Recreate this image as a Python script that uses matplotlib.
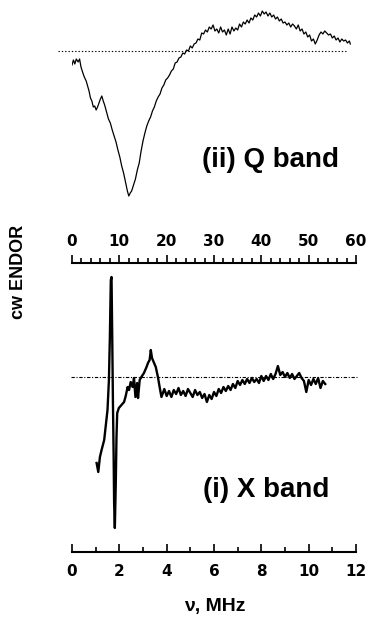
import numpy as np
import matplotlib
matplotlib.use("Agg")
import matplotlib.pyplot as plt

plt.rcParams["font.family"] = ["Liberation Sans", "DejaVu Sans"]
plt.rcParams["font.weight"] = "bold"

# --- Q band spectrum (MHz, arbitrary units, baseline = 0) ---
q_freq = [0.0, 0.3, 0.6, 0.9, 1.3, 1.6, 1.9, 2.3, 2.6, 3.0, 3.3, 3.6, 3.9, 4.2, 4.5,
          4.8, 5.1, 5.4, 5.7, 6.0, 6.3, 6.6, 6.9, 7.3, 7.7, 8.1, 8.5, 8.9, 9.3, 9.7,
          10.1, 10.5, 10.9, 11.3, 11.7, 12.0, 12.3, 12.6, 13.0, 13.4, 13.8, 14.2, 14.6,
          15.0, 15.4, 15.8, 16.2, 16.6, 17.0, 17.4, 17.8, 18.2, 18.6, 19.0, 19.4, 19.8,
          20.2, 20.6, 21.0, 21.4, 21.8, 22.2, 22.6, 23.0, 23.4, 23.8, 24.2, 24.6, 25.0,
          25.4, 25.8, 26.2, 26.6, 27.0, 27.4, 27.8, 28.2, 28.6, 29.0, 29.4, 29.8, 30.2,
          30.6, 31.0, 31.4, 31.8, 32.2, 32.6, 33.0, 33.4, 33.8, 34.2, 34.6, 35.0, 35.4,
          35.8, 36.2, 36.6, 37.0, 37.4, 37.8, 38.2, 38.6, 39.0, 39.4, 39.8, 40.2, 40.6,
          41.0, 41.4, 41.8, 42.2, 42.6, 43.0, 43.4, 43.8, 44.2, 44.6, 45.0, 45.4, 45.8,
          46.2, 46.6, 47.0, 47.4, 47.8, 48.2, 48.6, 49.0, 49.4, 49.8, 50.2, 50.6, 51.0,
          51.4, 51.8, 52.2, 52.6, 53.0, 53.4, 53.8, 54.2, 54.6, 55.0, 55.4, 55.8, 56.2,
          56.6, 57.0, 57.4, 57.8, 58.2, 58.6, 58.8]
q_signal = [-14, -9, -13, -8, -11, -8, -16, -22, -26, -30, -35, -40, -47, -50, -56,
            -55, -59, -56, -52, -48, -45, -50, -54, -61, -68, -72, -79, -85, -91, -99,
            -106, -115, -122, -131, -140, -145, -142, -140, -134, -128, -119, -112, -100,
            -90, -82, -75, -70, -66, -60, -56, -50, -46, -43, -37, -34, -29,
            -27, -24, -20, -18, -12, -11, -7, -6, -2, -3, 1, 0, 5,
            3, 7, 8, 12, 11, 18, 17, 21, 19, 24, 22, 26, 20,
            22, 18, 24, 19, 21, 16, 22, 17, 24, 20, 23, 21, 27,
            24, 29, 27, 31, 28, 33, 31, 36, 34, 38, 35, 40, 37,
            39, 35, 38, 34, 36, 32, 34, 30, 32, 28, 29, 26, 28,
            24, 27, 25, 22, 26, 20, 22, 17, 19, 14, 16, 10, 12,
            7, 11, 16, 19, 17, 20, 18, 16, 17, 13, 15, 11, 13,
            9, 12, 10, 11, 8, 10, 7]

# --- X band spectrum ---
x_freq = [1.04, 1.11, 1.18, 1.25, 1.36, 1.43, 1.50, 1.56, 1.60, 1.64, 1.67, 1.70,
          1.73, 1.76, 1.78, 1.81, 1.85, 1.88, 1.91, 1.98, 2.09, 2.20, 2.27, 2.35,
          2.41, 2.48, 2.56, 2.62, 2.68, 2.75, 2.79, 2.86, 2.93, 3.04, 3.15, 3.21,
          3.28, 3.33, 3.38, 3.45, 3.54, 3.63, 3.71, 3.78,
          3.9, 4.0, 4.1, 4.2, 4.3, 4.4, 4.5, 4.6, 4.7, 4.8, 4.9, 5.0, 5.1, 5.2,
          5.3, 5.4, 5.5, 5.6, 5.7, 5.8, 5.9, 6.0, 6.1, 6.2, 6.3, 6.4, 6.5, 6.6,
          6.7, 6.8, 6.9, 7.0, 7.1, 7.2, 7.3, 7.4, 7.5, 7.6, 7.7, 7.8, 7.9, 8.0,
          8.1, 8.2, 8.3, 8.4, 8.5, 8.6, 8.7, 8.8, 8.9, 9.0, 9.1, 9.2, 9.3, 9.4,
          9.5, 9.6, 9.7, 9.8, 9.9, 10.0, 10.1, 10.2, 10.3, 10.4, 10.5, 10.6, 10.7]
x_signal = [-86, -95, -80, -73, -63, -48, -33, -3, 40, 97, 100, 40,
            -26, -80, -126, -151, -106, -60, -36, -31, -28, -25, -19, -10,
            -13, -5, -10, -1, -20, -6, -21, -3, 0, 4, 10, 14,
            17, 27, 19, 15, 10, 0, -11, -20,
            -12, -19, -14, -20, -13, -17, -11, -18, -14, -19, -12, -16, -20, -13,
            -18, -15, -21, -17, -25, -18, -22, -15, -19, -12, -16, -10, -14, -9,
            -13, -7, -11, -4, -8, -3, -7, -2, -6, -1, -5, -2, -6, 1,
            -4, 1, -3, 3, -2, 3, 11, 2, 5, 0, 4, -1, 3, -2,
            1, 4, -1, -4, -15, -3, -8, -2, -7, -1, -11, -4, -7]

q_ticks = [0, 10, 20, 30, 40, 50, 60]
x_ticks = [0, 2, 4, 6, 8, 10, 12]

W, H = 370, 625
fig = plt.figure(figsize=(W / 100, H / 100), dpi=100)

ax_q = fig.add_axes([72 / W, 1 - 263 / H, 284 / W, 263 / H])
ax_x = fig.add_axes([72 / W, 1 - 552 / H, 284 / W, 282 / H])

for ax in (ax_q, ax_x):
    for side in ("left", "right", "top"):
        ax.spines[side].set_visible(False)
    ax.spines["bottom"].set_linewidth(1.5)
    ax.set_yticks([])
    ax.patch.set_alpha(0)
    ax.tick_params(axis="x", which="both", direction="in", width=1.2)
    ax.tick_params(axis="x", which="major", length=6)
    ax.tick_params(axis="x", which="minor", length=3.5)

# Q band panel
ax_q.plot(q_freq, q_signal, color="black", lw=0.9)
ax_q.hlines(0, -3, 58, colors="black", linestyles=(0, (1.2, 1.8)), lw=0.8,
            clip_on=False)
ax_q.set_xlim(0, 60)
ax_q.set_ylim(-212, 51)
ax_q.set_xticks(q_ticks)
ax_q.set_xticks(np.arange(0, 61, 2), minor=True)
ax_q.tick_params(axis="x", which="major", pad=-21)

# X band panel
ax_x.plot(x_freq, x_signal, color="black", lw=1.7)
ax_x.hlines(0, -0.05, 12.05, colors="black", linestyles=(0, (3, 1.5, 1, 1.5)),
            lw=0.8, clip_on=False)
ax_x.set_xlim(0, 12)
ax_x.set_ylim(-175, 107)
ax_x.set_xticks(x_ticks)
ax_x.set_xticks(np.arange(1, 12, 2), minor=True)
ax_x.tick_params(axis="x", which="major", pad=9)

for ax in (ax_q, ax_x):
    for lab in ax.get_xticklabels():
        lab.set_fontfamily("DejaVu Sans")
        lab.set_fontweight("bold")
        lab.set_fontsize(11)

fig.text(271 / W, 1 - 160 / H, "(ii) Q band", fontsize=20, fontweight="bold",
         ha="center", va="center")
fig.text(266 / W, 1 - 490 / H, "(i) X band", fontsize=20, fontweight="bold",
         ha="center", va="center")
fig.text(19 / W, 1 - 272 / H, "cw ENDOR", fontsize=13, fontweight="bold",
         rotation=90, ha="center", va="center")
fig.text(215 / W, 1 - 607 / H, "ν, MHz", fontsize=14, fontweight="bold",
         ha="center", va="center")

fig.savefig("out.png", dpi=100)
